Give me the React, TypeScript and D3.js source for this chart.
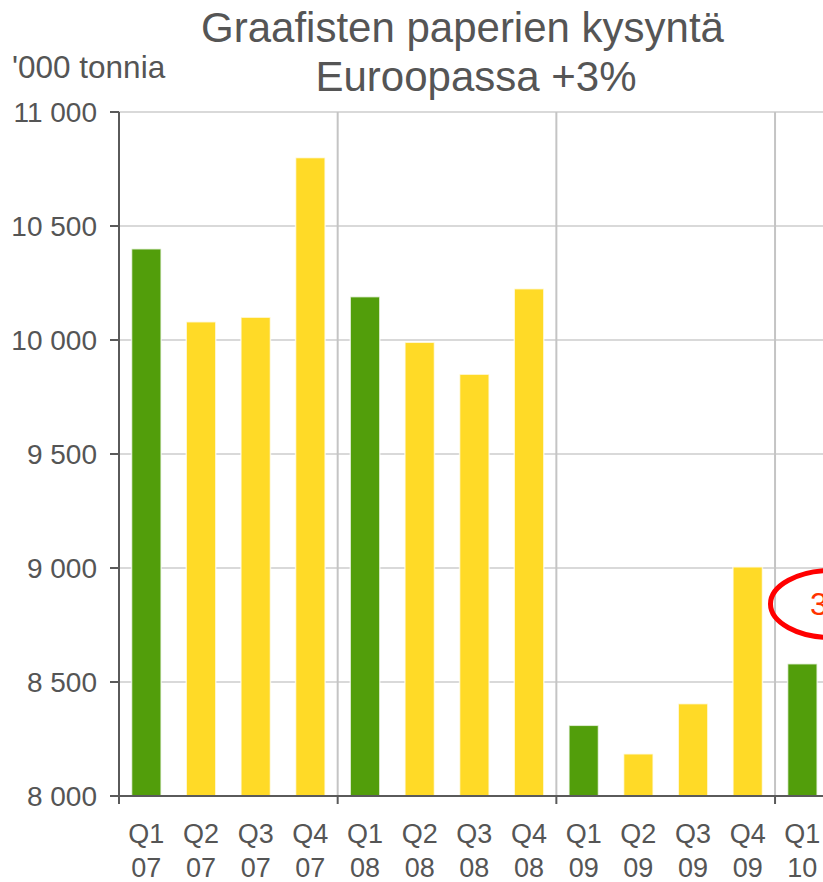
import React from "react";
import * as d3 from "d3";

const years = ["07", "08", "09", "10"];
const quarters = ["Q1", "Q2", "Q3", "Q4"];
const labels = ["Q1 07","Q2 07","Q3 07","Q4 07","Q1 08","Q2 08","Q3 08","Q4 08","Q1 09","Q2 09","Q3 09","Q4 09","Q1 10"];
const values = [10400, 10080, 10100, 10800, 10190, 9990, 9850, 10225, 8310, 8185, 8405, 9005, 8580];
const yTicks = [8000, 8500, 9000, 9500, 10000, 10500, 11000];
const title = ["Graafisten paperien kysyntä", "Euroopassa +3%"];
const unitLabel = "'000 tonnia";
const callout = "3%";

const W = 823, H = 882;
const GREEN = "#529E0B";
const YELLOW = "#FFDA27";
const TEXT = "#555555";
const AXIS = "#5a5a5a";
const GRID = "#d9d9d9";
const VGRID = "#c4c4c4";

const fmt = (v: number) => d3.format(",")(v).replace(/,/g, " ");

export default function App() {
  const allCats = years.flatMap((yy) => quarters.map((q) => `${q} ${yy}`));
  const left = 119;
  const step = 54.67;
  const x = d3.scaleBand<string>().domain(allCats).range([left, left + step * allCats.length]).paddingInner(0.46).paddingOuter(0.23);
  const y = d3.scaleLinear().domain([8000, 11000]).range([796, 112]);
  const yBoundaries = years.slice(1).map((yy) => (x(`Q1 ${yy}`) as number) - x.step() * 0.23);
  const bottom = y(8000);
  const top = y(11000);
  const font = "'Liberation Sans', Arial, sans-serif";

  return (
    <svg width={W} height={H} style={{ position: "absolute", left: 0, top: 0, background: "#fff" }} fontFamily={font}>
      <rect x={0} y={0} width={W} height={H} fill="#fff" />
      {yTicks.map((t) => (
        <line key={"g" + t} x1={left} x2={W} y1={y(t)} y2={y(t)} stroke={GRID} strokeWidth={2} />
      ))}
      {yBoundaries.map((bx, i) => (
        <g key={"vb" + i}>
          <line x1={bx} x2={bx} y1={top} y2={bottom} stroke={VGRID} strokeWidth={2} />
          <line x1={bx} x2={bx} y1={bottom} y2={bottom + 8} stroke={AXIS} strokeWidth={2} />
        </g>
      ))}
      {values.map((v, i) => (
        <rect
          key={labels[i]}
          x={x(labels[i])}
          y={y(v)}
          width={x.bandwidth()}
          height={bottom - y(v)}
          fill={labels[i].startsWith("Q1") ? GREEN : YELLOW}
          stroke="#ffffff"
          strokeOpacity={0.7}
          strokeWidth={1.5}
        />
      ))}
      <line x1={left} x2={left} y1={top} y2={bottom + 8} stroke={AXIS} strokeWidth={2} />
      {yTicks.map((t) => (
        <g key={"t" + t}>
          <line x1={left - 9} x2={left} y1={y(t)} y2={y(t)} stroke={AXIS} strokeWidth={2} />
          <text x={97} y={y(t) + 10} textAnchor="end" fontSize={28} fill={TEXT}>{fmt(t)}</text>
        </g>
      ))}
      <line x1={left - 9} x2={W} y1={bottom} y2={bottom} stroke={AXIS} strokeWidth={2} />
      {labels.map((l) => {
        const cx = (x(l) as number) + x.bandwidth() / 2;
        const [q, yy] = l.split(" ");
        return (
          <g key={"xl" + l}>
            <text x={cx} y={843} textAnchor="middle" fontSize={27} fill={TEXT}>{q}</text>
            <text x={cx} y={877} textAnchor="middle" fontSize={27} fill={TEXT}>{yy}</text>
          </g>
        );
      })}
      <text x={462.5} y={42} textAnchor="middle" fontSize={42} fill={TEXT}>{title[0]}</text>
      <text x={476} y={91} textAnchor="middle" fontSize={42} fill={TEXT}>{title[1]}</text>
      <text x={12} y={78} fontSize={31.5} fill={TEXT}>{unitLabel}</text>
      <ellipse cx={832} cy={604} rx={61.5} ry={33.5} fill="none" stroke="#ff0000" strokeWidth={5} />
      <text x={810} y={615} fontSize={32} fill="#ff3300">{callout}</text>
    </svg>
  );
}
